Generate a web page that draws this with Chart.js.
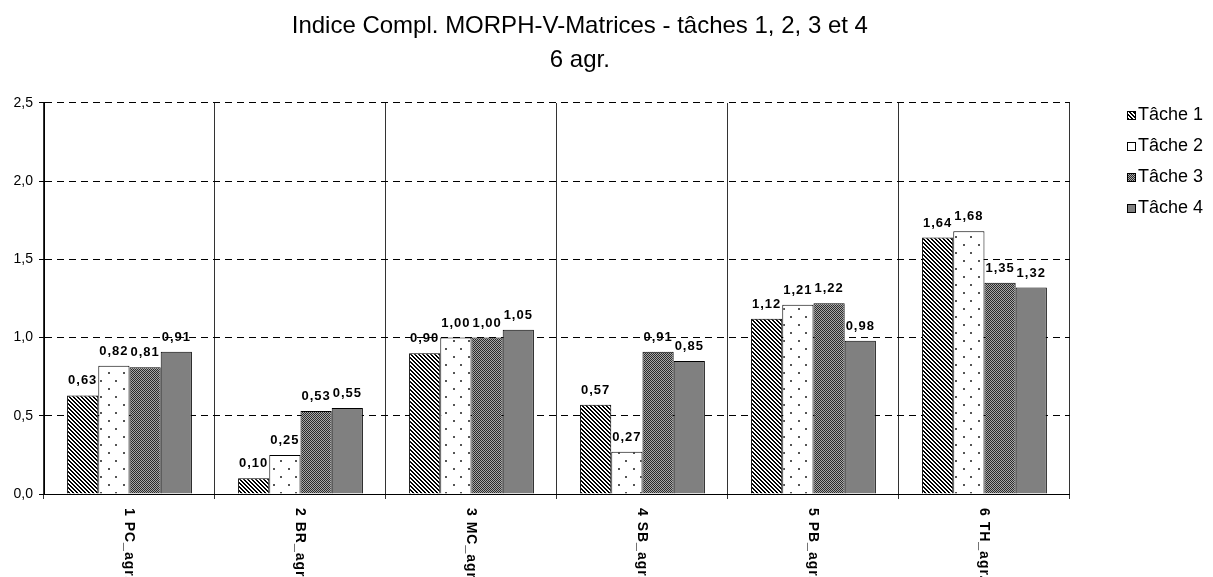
<!DOCTYPE html>
<html>
<head>
<meta charset="utf-8">
<script src="https://cdn.jsdelivr.net/npm/chart.js@4"></script>
<style>
  html, body { margin: 0; padding: 0; background: #fff; }
</style>
</head>
<body>
<canvas id="chart" width="1213" height="577"></canvas>
<script>
const categories = ['1 PC_agr.', '2 BR_agr.', '3 MC_agr.', '4 SB_agr.', '5 PB_agr.', '6 TH_agr.'];
const seriesNames = ['Tâche 1', 'Tâche 2', 'Tâche 3', 'Tâche 4'];
const tache1 = [0.63, 0.10, 0.90, 0.57, 1.12, 1.64];
const tache2 = [0.82, 0.25, 1.00, 0.27, 1.21, 1.68];
const tache3 = [0.81, 0.53, 1.00, 0.91, 1.22, 1.35];
const tache4 = [0.91, 0.55, 1.05, 0.85, 0.98, 1.32];
const yTicks = [0, 0.5, 1.0, 1.5, 2.0, 2.5];
const titleLines = ['Indice Compl. MORPH-V-Matrices - tâches 1, 2, 3 et 4', '6 agr.'];

const FONT = '"Liberation Sans", Arial, sans-serif';
const canvas = document.getElementById('chart');
const ctx = canvas.getContext('2d');

// small tiles used as fill patterns (like the excel hatch fills)
function makeTile(w, h, draw) {
    const c = document.createElement('canvas');
    c.width = w;
    c.height = h;
    draw(c.getContext('2d'));
    return c;
}

const stripeTile = makeTile(4, 4, g => {
    g.fillStyle = '#fff';
    g.fillRect(0, 0, 4, 4);
    g.fillStyle = '#000';
    for (let i = 0; i < 4; i++) {
        g.fillRect(i, i, 1, 1);
        g.fillRect((i + 1) % 4, i, 1, 1);
    }
});
const dotTile = makeTile(15, 16, g => {
    g.fillStyle = '#fff';
    g.fillRect(0, 0, 15, 16);
    g.fillStyle = '#555';
    g.fillRect(3, 4, 2, 2);
    g.fillRect(10, 12, 2, 2);
});
const checkTile = makeTile(2, 2, g => {
    g.fillStyle = '#a8a8a8';
    g.fillRect(0, 0, 2, 2);
    g.fillStyle = '#2a2a2a';
    g.fillRect(0, 0, 1, 1);
    g.fillRect(1, 1, 1, 1);
});
const tiles = [stripeTile, dotTile, checkTile, null];

const fills = tiles.map(t => (t ? ctx.createPattern(t, 'repeat') : '#808080'));

// legend swatch: transparent canvas with the little box at its right end
function legendIcon(tile) {
    return makeTile(60, 9, g => {
        g.fillStyle = tile ? g.createPattern(tile, 'repeat') : '#808080';
        g.fillRect(51, 0, 9, 9);
        g.strokeStyle = '#000';
        g.lineWidth = 1;
        g.strokeRect(51.5, 0.5, 8, 8);
    });
}
const legendIcons = tiles.map(legendIcon);

const fmt = v => v.toFixed(2).replace('.', ',');

const valueLabels = {
    id: 'valueLabels',
    afterDatasetsDraw(chart) {
        const c = chart.ctx;
        c.save();
        c.font = 'bold 13px ' + FONT;
        c.letterSpacing = '1px';
        c.fillStyle = '#000';
        c.textAlign = 'center';
        c.textBaseline = 'alphabetic';
        chart.data.datasets.forEach((ds, di) => {
            chart.getDatasetMeta(di).data.forEach((bar, i) => {
                c.fillText(fmt(ds.data[i]), bar.x, bar.y - 11);
            });
        });
        c.restore();
    }
};

// category names run downwards (rotated clockwise)
const xLabels = {
    id: 'xLabels',
    afterDraw(chart) {
        const c = chart.ctx;
        const xs = chart.scales.x;
        c.save();
        c.font = 'bold 14px ' + FONT;
        c.letterSpacing = '1px';
        c.fillStyle = '#000';
        c.textAlign = 'left';
        c.textBaseline = 'middle';
        categories.forEach((name, i) => {
            c.save();
            c.translate(xs.getPixelForValue(i) - 1, chart.chartArea.bottom + 14);
            c.rotate(Math.PI / 2);
            c.fillText(name, 0, 0);
            c.restore();
        });
        c.restore();
    }
};

const seriesData = [tache1, tache2, tache3, tache4];

new Chart(ctx, {
    type: 'bar',
    data: {
        labels: categories,
        datasets: seriesNames.map((name, i) => ({
            label: name,
            data: seriesData[i],
            backgroundColor: fills[i],
            borderColor: '#000',
            borderWidth: 1,
            categoryPercentage: 0.73,
            barPercentage: 1.0
        }))
    },
    options: {
        responsive: false,
        animation: false,
        devicePixelRatio: 1,
        layout: { padding: 0 },
        plugins: {
            tooltip: { enabled: false },
            title: {
                display: true,
                // trailing spaces pull the centred title a bit to the left, as in the original
                text: titleLines.map(t => t + '        '),
                color: '#000',
                font: { family: FONT, size: 24, weight: 'normal', lineHeight: 1.4 },
                padding: { top: 10, bottom: 25.8 }
            },
            legend: {
                position: 'right',
                align: 'start',
                fullSize: true,
                title: { display: true, text: ' ', font: { size: 10, lineHeight: 1.2 }, padding: { top: 81.5, bottom: 0 } },
                labels: {
                    usePointStyle: true,
                    pointStyleWidth: 46,
                    padding: 13,
                    color: '#000',
                    font: { family: FONT, size: 18 },
                    generateLabels: chart => chart.data.datasets.map((ds, i) => ({
                        text: ds.label,
                        fontColor: '#000',
                        pointStyle: legendIcons[i],
                        fillStyle: '#808080',
                        strokeStyle: '#000',
                        lineWidth: 0,
                        hidden: false,
                        datasetIndex: i,
                        textAlign: 'left'
                    }))
                }
            }
        },
        scales: {
            x: {
                afterFit: s => { s.height = 83; },
                ticks: { display: false },
                grid: { offset: true, color: '#333', tickLength: 5, tickColor: '#333' },
                border: { display: true, color: '#000' }
            },
            y: {
                min: 0,
                max: 2.5,
                afterFit: s => { s.width = 44; },
                afterBuildTicks: s => { s.ticks = yTicks.map(v => ({ value: v })); },
                ticks: {
                    padding: 6,
                    color: '#000',
                    font: { family: FONT, size: 14 },
                    callback: v => v.toFixed(1).replace('.', ',')
                },
                grid: { color: '#000', tickLength: 5, tickColor: '#000', tickBorderDash: [] },
                border: {
                    display: true,
                    color: '#000',
                    dash: c => (c.tick ? [7, 5] : [])
                }
            }
        }
    },
    plugins: [valueLabels, xLabels]
});
</script>
</body>
</html>
